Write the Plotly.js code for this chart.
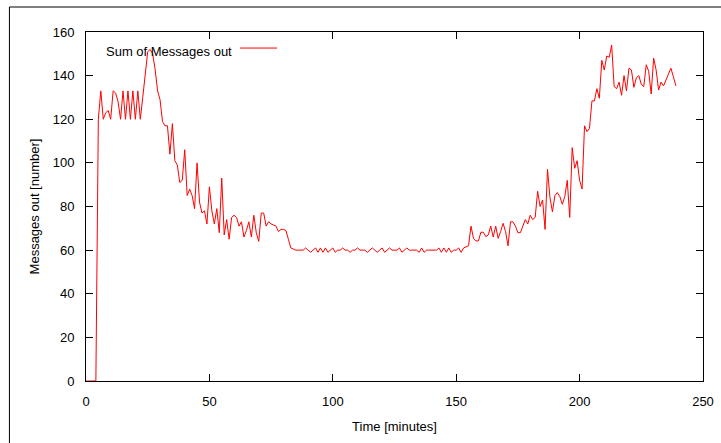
<!DOCTYPE html>
<html>
<head>
<meta charset="utf-8">
<script src="https://cdn.plot.ly/plotly-3.0.1.min.js"></script>
<style>
html,body{margin:0;padding:0;background:#fff;}
#chart{width:721px;height:443px;}
</style>
</head>
<body>
<div id="chart"></div>
<script>
var seriesName = "Sum of Messages out";
var xTitle = "Time [minutes]";
var yTitle = "Messages out [number]";
var xTicks = [0, 50, 100, 150, 200, 250];
var yTicks = [0, 20, 40, 60, 80, 100, 120, 140, 160];

var minutes = [
0,1,2,3,4,5,6,7,8,9,10,11,12,13,14,15,16,17,18,19,
20,21,22,23,24,25,26,27,28,29,30,31,32,33,34,35,36,37,38,39,
40,41,42,43,44,45,46,47,48,49,50,51,52,53,54,55,56,57,58,59,
60,61,62,63,64,65,66,67,68,69,70,71,72,73,74,75,76,77,78,79,
80,81,82,83,84,85,86,87,88,89,90,91,92,93,94,95,96,97,98,99,
100,101,102,103,104,105,106,107,108,109,110,111,112,113,114,115,116,117,118,119,
120,121,122,123,124,125,126,127,128,129,130,131,132,133,134,135,136,137,138,139,
140,141,142,143,144,145,146,147,148,149,150,151,152,153,154,155,156,157,158,159,
160,161,162,163,164,165,166,167,168,169,170,171,172,173,174,175,176,177,178,179,
180,181,182,183,184,185,186,187,188,189,190,191,192,193,194,195,196,197,198,199,
200,201,202,203,204,205,206,207,208,209,210,211,212,213,214,215,216,217,218,219,
220,221,222,223,224,225,226,227,228,229,230,231,232,233,234,235,236,237,238,239
];

var messagesOut = [
0,0,0,0,0,120,133,120,123,124,120,133,132,128,120,133,120,133,120,133,
120,133,120,130,140,151,152,150,143,133,129,119,117,117,104,118,101,99,91,92,
106,85,88,85,79,100,82,77,78,72,89,78,72,79,68,93,67,74,65,75,
76,75,71,73,66,69,73,66,76,68,64,77,77,71,73,72,71.5,71,68.5,69.5,
69.5,69,65,61,60.5,60,60,60,60,61,60,59,60,61,59,61,59,61,59,60,
61,59,60,60,61,60,60,59,60,60,61,60,60,60,59,60,61,60,59,60,
61,59,60,61,60,60,60,61,59,60,61,60,60,60,60,59,61,59,60,60,
60,60,60,61,59,61,59,61,59,60,60,61,59,61,61.5,62,71,65.4,64.2,64.2,
68.2,68.2,66.2,67,71,66,71,65.4,68.5,72.3,68.5,62,73,73,71,68,68,71.5,74,72,
76,74,75,87,80,83,69.5,97,84,77.6,85,86.4,84.5,81,84.5,92,75,107,97.5,101,
92,88,117,114.3,115.8,128.4,128.4,134,129.6,147,142.6,149,148.4,154,135,134,137,131,140,133,
143.4,142.6,134.6,139,140,136,135,145,142,131.6,148,142.6,133.4,137,135.3,138,141,143.4,139.5,135.3
];

var fontFam = "Liberation Sans, Arial, Helvetica, sans-serif";
var fs = 13;

var trace = {
  x: minutes,
  y: messagesOut,
  type: "scatter",
  mode: "lines",
  name: seriesName,
  line: {color: "#ff0000", width: 1},
  showlegend: false,
  hoverinfo: "x+y"
};

var axisCommon = {
  showgrid: false,
  zeroline: false,
  showline: true,
  linecolor: "#000",
  linewidth: 1,
  mirror: "ticks",
  ticks: "inside",
  ticklen: 7,
  tickwidth: 1,
  tickcolor: "#000",
  tickfont: {family: fontFam, size: fs, color: "#000"}
};

var layout = {
  width: 721,
  height: 443,
  margin: {l: 86, r: 18, t: 32, b: 62},
  paper_bgcolor: "#fff",
  plot_bgcolor: "#fff",
  font: {family: fontFam, size: fs, color: "#000"},
  xaxis: Object.assign({}, axisCommon, {
    range: [0, 250],
    tickmode: "array",
    tickvals: xTicks,
    ticktext: xTicks.map(String),
    ticklabelstandoff: 8,
    title: {text: xTitle, font: {family: fontFam, size: fs, color: "#000"}, standoff: 14}
  }),
  yaxis: Object.assign({}, axisCommon, {
    range: [0, 160],
    tickmode: "array",
    tickvals: yTicks,
    ticktext: yTicks.map(String),
    ticklabelstandoff: 8,
    title: {text: yTitle, font: {family: fontFam, size: fs, color: "#000"}, standoff: 10}
  }),
  annotations: [{
    xref: "paper", yref: "paper",
    x: 0.2395, y: 0.9427,
    xanchor: "right", yanchor: "middle",
    text: seriesName,
    showarrow: false,
    font: {family: fontFam, size: fs, color: "#000"}
  }],
  shapes: [
    {type: "line", xref: "paper", yref: "paper",
     x0: 0.2497, x1: 0.3097, y0: 0.954, y1: 0.954,
     line: {color: "#ff0000", width: 1}},
    {type: "rect", xref: "paper", yref: "paper",
     x0: -0.1241, x1: 1.05, y0: -0.2, y1: 1.0716,
     line: {color: "#000", width: 1}, fillcolor: "rgba(0,0,0,0)", layer: "below"}
  ]
};

Plotly.newPlot("chart", [trace], layout, {displayModeBar: false, staticPlot: true});
</script>
</body>
</html>
